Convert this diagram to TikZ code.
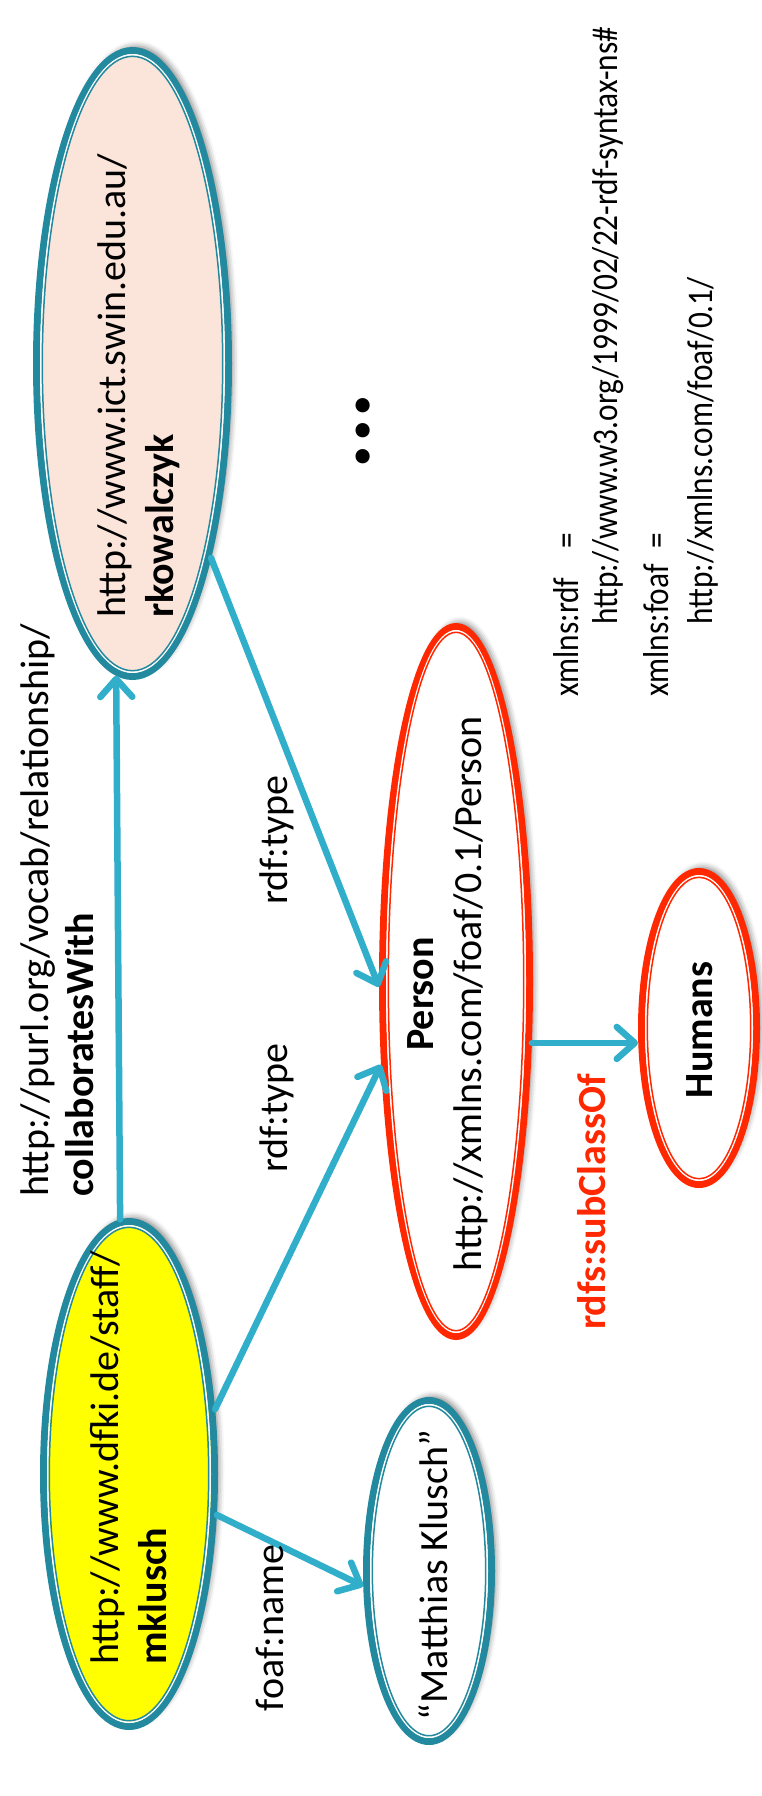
\documentclass[tikz,border=0pt]{standalone}
\usepackage{fontspec}
\setmainfont{Carlito}
\newfontfamily\nsfont[FakeStretch=0.87]{Carlito}
\usetikzlibrary{shapes.geometric,arrows.meta,shadows.blur}

\definecolor{rdfteal}{RGB}{35,137,158}
\definecolor{linkblue}{RGB}{49,174,202}
\definecolor{classred}{RGB}{255,40,0}
\definecolor{mkfill}{RGB}{255,255,0}
\definecolor{rkfill}{RGB}{251,229,218}

% thin inner rim of the thick-thin outline
\newcommand\compoundrim[4]{%
  \draw[white, line width=1.6pt] (#1.center) ellipse [x radius=#2-4.3, y radius=#3-4.3];
  \draw[#4, line width=1.5pt] (#1.center) ellipse [x radius=#2-5.8, y radius=#3-5.8];}

\tikzset{
  res/.style={ellipse, inner sep=0pt, line width=7pt,
    blur shadow={shadow xshift=4pt, shadow yshift=4pt, shadow blur radius=6pt, shadow opacity=50}},
  txt/.style={rotate=90, inner sep=0pt, font=\fontsize{40}{48}\selectfont},
  link/.style={draw=linkblue, line width=6.5pt, line cap=round,
    -{Straight Barb[length=18pt, width=32pt, round]}},
  nsline/.style={rotate=90, inner sep=0pt, anchor=base west, font=\nsfont\fontsize{36}{44}\selectfont},
}

\begin{document}
\begin{tikzpicture}[x=1pt,y=1pt]
\useasboundingbox (0,0) rectangle (761,-1796);

% resources and classes
\node[res, draw=rdfteal, fill=mkfill, minimum width=171, minimum height=505] (mk) at (129,-1474) {};
\compoundrim{mk}{85.5}{252.5}{rdfteal}
\node[txt, anchor=west] (mkname) at (133,-1665)
  {\begin{tabular}{@{}l@{}}http://www.dfki.de/staff/\\\textbf{mklusch}\end{tabular}};

\node[res, draw=rdfteal, fill=rkfill, minimum width=192, minimum height=626] (rk) at (132.5,-363.5) {};
\compoundrim{rk}{96}{313}{rdfteal}
\node[txt, anchor=west] (rkname) at (140,-618)
  {\begin{tabular}{@{}l@{}}http://www.ict.swin.edu.au/\\\textbf{rkowalczyk}\end{tabular}};

\node[res, draw=rdfteal, fill=white, minimum width=125, minimum height=341] (mat) at (429,-1571) {};
\compoundrim{mat}{62.5}{170.5}{rdfteal}
\node[txt, anchor=base] (matname) at (447,-1575) {“Matthias Klusch”};

\node[res, draw=classred, fill=white, minimum width=147, minimum height=710] (per) at (456,-981.5) {};
\compoundrim{per}{73.5}{355}{classred}
\node[txt] (pername) at (448,-994)
  {\begin{tabular}{@{}c@{}}\textbf{Person}\\http://xmlns.com/foaf/0.1/Person\end{tabular}};

\node[res, draw=classred, fill=white, minimum width=115, minimum height=313] (hum) at (699,-1028) {};
\compoundrim{hum}{57.5}{156.5}{classred}
\node[txt, anchor=base] (humname) at (712,-1030) {\textbf{Humans}};

% properties
\draw[link] (mk.92.7) -- (rk.267.2);
\draw[link] (mk.37) -- (per.228);
\draw[link] (rk.-68) -- (per.184);
\draw[link] (mk.-25) -- (mat.193);
\draw[link] (per.-39) -- (per.-39 -| hum.west);

% property labels
\node[txt, anchor=base west] (collabns) at (48,-1197) {http://purl.org/vocab/relationship/};
\node[txt, anchor=base west] (collab) at (93,-1197) {\textbf{collaboratesWith}};
\node[txt, anchor=base] (type1) at (287,-840) {rdf:type};
\node[txt, anchor=base] (type2) at (287,-1108) {rdf:type};
\node[txt, anchor=base] (fname) at (283,-1628) {foaf:name};
\node[txt, anchor=base, text=classred] (subcl) at (605,-1202) {\textbf{rdfs:subClassOf}};

\node[rotate=90, inner sep=0pt, font=\fontsize{96}{96}\selectfont\bfseries] (more) at (363,-431) {...};

% namespace prefixes
\node[nsline] (ns1) at (578,-697) {\makebox[148pt][l]{xmlns:rdf}=};
\node[nsline] (ns2) at (617,-625) {http://www.w3.org/1999/02/22-rdf-syntax-ns\#};
\node[nsline] (ns3) at (668,-697) {\makebox[148pt][l]{xmlns:foaf}=};
\node[nsline] (ns4) at (712,-625) {http://xmlns.com/foaf/0.1/};
\end{tikzpicture}
\end{document}
